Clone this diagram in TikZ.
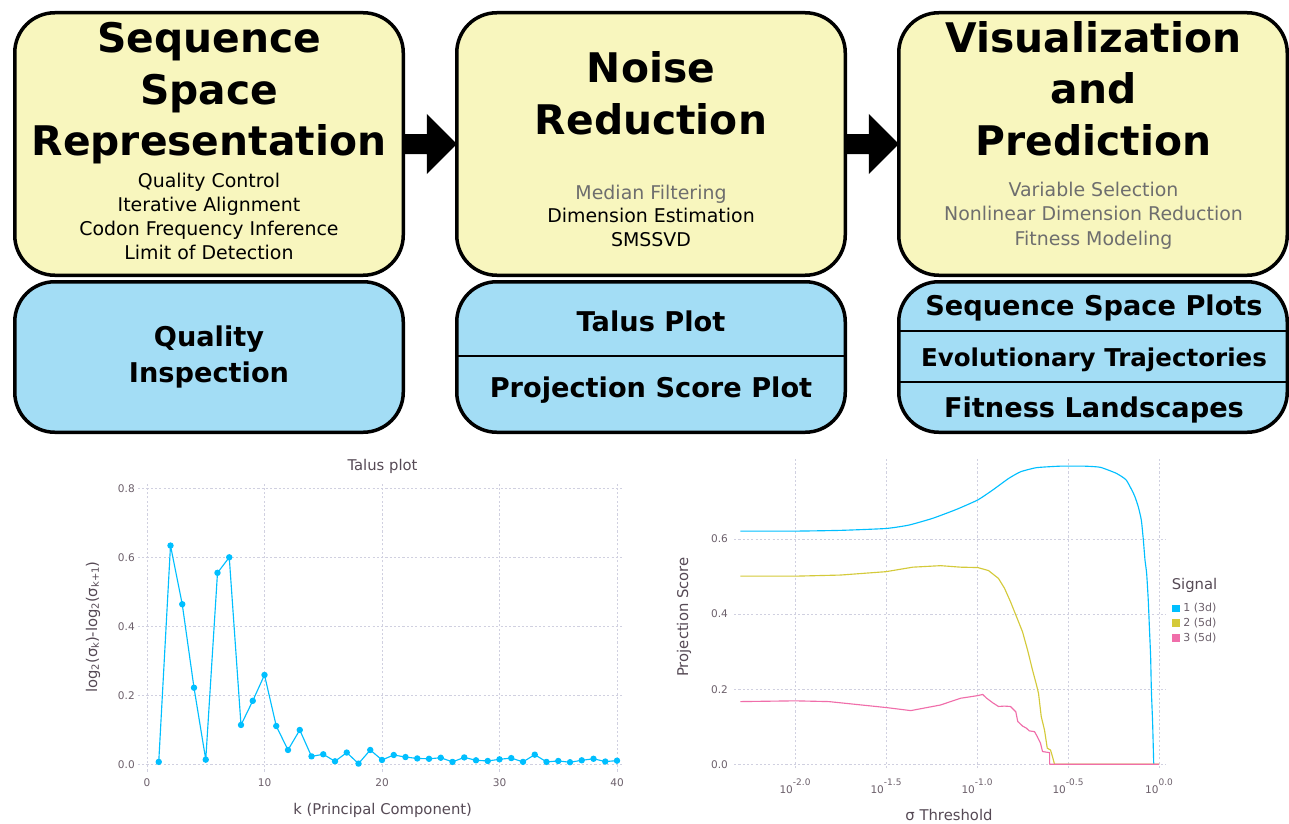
\documentclass[tikz,border=0pt]{standalone}
\usepackage{fontspec}
\setmainfont{DejaVu Sans}
\newfontfamily\plotfont{DejaVu Sans}
\usetikzlibrary{calc}

\definecolor{stageyellow}{RGB}{248,246,190}
\definecolor{outblue}{RGB}{163,221,245}
\definecolor{subgray}{RGB}{110,110,110}
\definecolor{gridcol}{RGB}{208,208,224}
\definecolor{ticktext}{RGB}{108,96,107}
\definecolor{labeltext}{RGB}{86,74,85}
\definecolor{sigone}{RGB}{0,191,255}
\definecolor{sigtwo}{RGB}{212,202,58}
\definecolor{sigthree}{RGB}{240,110,170}

\newcommand\lowidx[1]{\raisebox{-0.12em}{\fontsize{7.5}{9}\selectfont #1}}

\tikzset{
  stagebox/.style={draw=black, line width=2.625pt, rounded corners=30pt, fill=stageyellow,
    minimum width=291.375pt, minimum height=196.875pt, inner sep=0pt, outer sep=0pt},
  resultbox/.style={stagebox, fill=outblue, minimum height=112.875pt},
  headline/.style={anchor=base, inner sep=0pt, font=\bfseries\fontsize{30.6}{36}\selectfont},
  detail/.style={anchor=base, inner sep=0pt, font=\fontsize{14.2}{17}\selectfont},
  detailgray/.style={detail, text=subgray},
  outlabel/.style={anchor=base, inner sep=0pt, font=\bfseries\fontsize{20.4}{24}\selectfont},
  divider/.style={draw=black, line width=0.9pt},
  flowarrow/.style={fill=black},
  gridline/.style={draw=gridcol, line width=0.7pt, dash pattern=on 1.6pt off 1.6pt},
  ticklabel/.style={inner sep=0pt, text=ticktext, font=\plotfont\fontsize{7.9}{9}\selectfont},
  axistitle/.style={inner sep=0pt, text=labeltext, font=\plotfont\fontsize{11.1}{13}\selectfont},
  curve/.style={line width=0.85pt, line join=round},
}

\begin{document}
\begin{tikzpicture}[x=0.75pt, y=-0.75pt]
\useasboundingbox (0,0) rectangle (1289,824);
\fill[white] (0,0) rectangle (1289,824);

% ---------- pipeline stages ----------
\node[stagebox] (s1) at (209,144) {};
\node[stagebox] (s2) at (651,144) {};
\node[stagebox] (s3) at (1093,144) {};
\node[resultbox] (r1) at (209,357) {};
\node[resultbox] (r2) at (651,357) {};
\node[resultbox] (r3) at (1093,357) {};

% dividers inside the result boxes
\draw[divider] (r2.west |- 0,356) -- (r2.east |- 0,356);
\draw[divider] (r3.west |- 0,331) -- (r3.east |- 0,331);
\draw[divider] (r3.west |- 0,382) -- (r3.east |- 0,382);

% block arrows between stages
\fill[flowarrow] ($(s1.east)+(0,-10)$) -- ($(s2.west)+(-30,-10)$) -- ($(s2.west)+(-30,-30)$)
  -- (s2.west) -- ($(s2.west)+(-30,30)$) -- ($(s2.west)+(-30,10)$) -- ($(s1.east)+(0,10)$) -- cycle;
\fill[flowarrow] ($(s2.east)+(0,-10)$) -- ($(s3.west)+(-30,-10)$) -- ($(s3.west)+(-30,-30)$)
  -- (s3.west) -- ($(s3.west)+(-30,30)$) -- ($(s3.west)+(-30,10)$) -- ($(s2.east)+(0,10)$) -- cycle;

% stage 1 text
\node[headline] (t1a) at (209,53) {Sequence};
\node[headline] (t1b) at (209,104) {Space};
\node[headline] (t1c) at (209,155) {Representation};
\node[detail] (d1a) at (209,187) {Quality Control};
\node[detail] (d1b) at (209,211) {Iterative Alignment};
\node[detail] (d1c) at (209,235) {Codon Frequency Inference};
\node[detail] (d1d) at (209,259) {Limit of Detection};

% stage 2 text
\node[headline] (t2a) at (651,82.7) {Noise};
\node[headline] (t2b) at (651,134.3) {Reduction};
\node[detailgray] (d2a) at (651,199.3) {Median Filtering};
\node[detail] (d2b) at (651,222.7) {Dimension Estimation};
\node[detail] (d2c) at (651,246.7) {SMSSVD};

% stage 3 text
\node[headline] (t3a) at (1093.5,52.7) {Visualization};
\node[headline] (t3b) at (1093.5,103.3) {and};
\node[headline] (t3c) at (1093.5,155.7) {Prediction};
\node[detailgray] (d3a) at (1093.5,196.7) {Variable Selection};
\node[detailgray] (d3b) at (1093.5,220.7) {Nonlinear Dimension Reduction};
\node[detailgray] (d3c) at (1093.5,245) {Fitness Modeling};

% result labels
\node[outlabel] (o1a) at (209,346) {Quality};
\node[outlabel] (o1b) at (209,382) {Inspection};
\node[outlabel] (o2a) at (651,331) {Talus Plot};
\node[outlabel] (o2b) at (651,397) {Projection Score Plot};
\node[outlabel] (o3a) at (1094,315) {Sequence Space Plots};
\node[outlabel, font=\bfseries\fontsize{18.4}{22}\selectfont] (o3b) at (1094,366.7) {Evolutionary Trajectories};
\node[outlabel] (o3c) at (1094,417.7) {Fitness Landscapes};

% ---------- talus plot ----------
\begin{scope}[xshift=110.25pt, yshift=-573.225pt, x=8.8125pt, y=258.75pt]
  \foreach \k in {0,10,20,30,40}
    \draw[gridline] (\k,-0.021) -- (\k,0.818);
  \foreach \v in {0,0.2,0.4,0.6,0.8}
    \draw[gridline] (-0.77,\v) -- (40.55,\v);
  \draw[curve, sigone, mark=*, mark size=1.95pt, mark options={fill=sigone, draw=none}]
    plot coordinates {(1,0.007) (2,0.634) (3,0.464) (4,0.222) (5,0.0135) (6,0.555) (7,0.600)
      (8,0.114) (9,0.184) (10,0.259) (11,0.111) (12,0.0415) (13,0.0995) (14,0.023) (15,0.029)
      (16,0.0087) (17,0.034) (18,0.002) (19,0.0415) (20,0.0126) (21,0.027) (22,0.021) (23,0.017)
      (24,0.016) (25,0.019) (26,0.007) (27,0.020) (28,0.0116) (29,0.0097) (30,0.0145) (31,0.018)
      (32,0.007) (33,0.028) (34,0.007) (35,0.0097) (36,0.006) (37,0.0116) (38,0.016) (39,0.008)
      (40,0.0106)};
\end{scope}
\foreach \i/\lab in {0/0.0,1/0.2,2/0.4,3/0.6,4/0.8}
  \node[ticklabel, anchor=east] (ty\i) at (135,{764.3-69*\i}) {\lab};
\foreach \i/\lab in {0/0,1/10,2/20,3/30,4/40}
  \node[ticklabel] (tx\i) at ({147+117.5*\i},782.3) {\lab};
\node[axistitle] (ttitle) at (382.5,466.5) {Talus plot};
\node[axistitle] (txlab) at (382.7,810) {k (Principal Component)};
\node[axistitle, rotate=90] (tylab) at (93,627)
  {log\lowidx{2}(σ\lowidx{k})-log\lowidx{2}(σ\lowidx{k+1})};

% ---------- projection score plot ----------
\begin{scope}[xshift=869.25pt, yshift=-573.225pt, x=136.5pt, y=281.625pt]
  \foreach \L in {-2,-1.5,-1,-0.5,0}
    \draw[gridline] (\L,-0.0099) -- (\L,0.816);
  \foreach \v in {0,0.2,0.4,0.6}
    \draw[gridline] (-2.334,\v) -- (0.04,\v);
  \draw[curve, sigone] plot[smooth, tension=0.3] coordinates {(-2.30,0.621) (-2.0,0.621) (-1.75,0.623) (-1.5,0.628)
    (-1.375,0.637) (-1.244,0.655) (-1.112,0.679) (-0.996,0.704) (-0.915,0.730) (-0.827,0.761)
    (-0.761,0.779) (-0.673,0.790) (-0.542,0.794) (-0.410,0.794) (-0.323,0.791) (-0.235,0.775)
    (-0.180,0.757) (-0.136,0.717) (-0.114,0.686) (-0.097,0.650) (-0.086,0.597) (-0.077,0.544)
    (-0.068,0.509) (-0.059,0.437) (-0.053,0.367) (-0.046,0.287) (-0.042,0.198) (-0.035,0.109)
    (-0.029,0)};
  \draw[curve, sigone] (-0.029,0) -- (0,0);
  \draw[curve, sigtwo] plot coordinates {(-2.30,0.501) (-2.0,0.501) (-1.75,0.504) (-1.5,0.513)
    (-1.353,0.525) (-1.2,0.529) (-1.09,0.525) (-0.996,0.524) (-0.937,0.516) (-0.882,0.495)
    (-0.849,0.469) (-0.816,0.433) (-0.783,0.393) (-0.75,0.353) (-0.722,0.304) (-0.695,0.251)
    (-0.673,0.211) (-0.662,0.189) (-0.647,0.127) (-0.629,0.091) (-0.614,0.043) (-0.596,0.038)
    (-0.585,0.020) (-0.574,0) (0,0)};
  \draw[curve, sigthree] plot coordinates {(-2.30,0.167) (-2.0,0.169) (-1.814,0.167) (-1.496,0.151)
    (-1.364,0.143) (-1.2,0.158) (-1.09,0.176) (-1.035,0.180) (-0.996,0.183) (-0.969,0.186)
    (-0.947,0.176) (-0.914,0.164) (-0.882,0.154) (-0.849,0.155) (-0.816,0.154) (-0.787,0.140)
    (-0.776,0.114) (-0.75,0.102) (-0.728,0.096) (-0.713,0.089) (-0.684,0.087) (-0.669,0.074)
    (-0.651,0.056) (-0.640,0.034) (-0.601,0.031) (-0.601,0) (0,0)};
\end{scope}
\foreach \i/\lab in {0/0.0,1/0.2,2/0.4,3/0.6}
  \node[ticklabel, anchor=east] (py\i) at (728.2,{764.3-75.1*\i}) {\lab};
\foreach \i/\e in {0/-2.0,1/-1.5,2/-1.0,3/-0.5,4/0.0}
  \node[ticklabel, anchor=base] (px\i) at ({795+91*\i},793.3)
    {10\raisebox{5.7pt}{\fontsize{6.75}{8}\selectfont\e}};
\node[axistitle, rotate=90] (pylab) at (684,617) {Projection Score};
\node[axistitle] (pxlab) at (949,815) {σ Threshold};

% legend
\node[axistitle, anchor=base west] (legtitle) at (1171.5,589) {Signal};
\fill[sigone] (1172.3,604.5) rectangle ++(7.7,7.7);
\fill[sigtwo] (1172.3,618.9) rectangle ++(7.7,7.7);
\fill[sigthree] (1172.3,633.9) rectangle ++(7.7,7.7);
\node[ticklabel, anchor=west, font=\plotfont\fontsize{8.25}{10}\selectfont] (leg1) at (1183,608.3) {1 (3d)};
\node[ticklabel, anchor=west, font=\plotfont\fontsize{8.25}{10}\selectfont] (leg2) at (1183,622.7) {2 (5d)};
\node[ticklabel, anchor=west, font=\plotfont\fontsize{8.25}{10}\selectfont] (leg3) at (1183,637.7) {3 (5d)};
\end{tikzpicture}
\end{document}
